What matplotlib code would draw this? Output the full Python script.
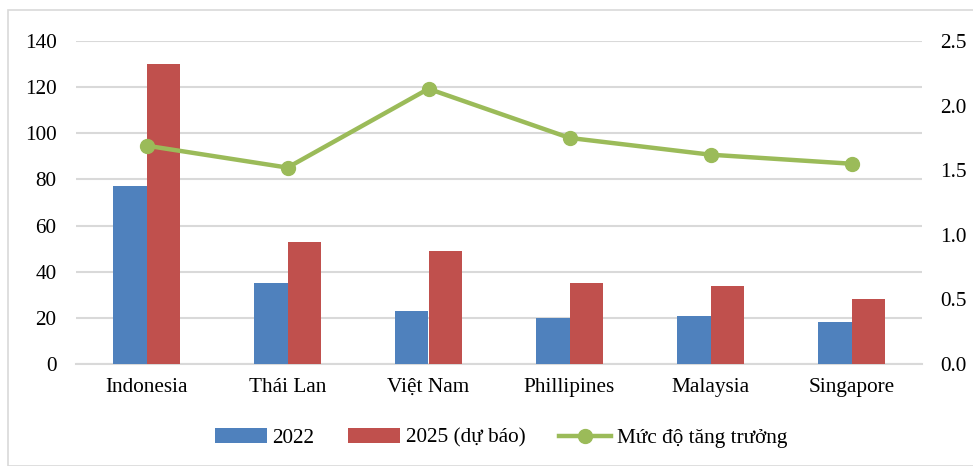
import matplotlib
matplotlib.use("Agg")
import matplotlib.pyplot as plt
import numpy as np
from matplotlib.patches import Rectangle

categories = ["Indonesia", "Thái Lan", "Việt Nam", "Phillipines", "Malaysia", "Singapore"]
values_2022 = [77, 35, 23, 20, 21, 18]
values_2025 = [130, 53, 49, 35, 34, 28]
growth = [1.69, 1.52, 2.13, 1.75, 1.62, 1.55]
left_ticks = [0, 20, 40, 60, 80, 100, 120, 140]
right_ticks = [0.0, 0.5, 1.0, 1.5, 2.0, 2.5]

plt.rcParams['font.family'] = ['Liberation Serif', 'DejaVu Serif']
FS = 15.3

fig = plt.figure(figsize=(9.73, 4.66), dpi=100)
ax = fig.add_axes([76/973, 1-364/466, 846/973, 323/466])
ax2 = ax.twinx()

x = np.arange(len(categories))
w = 0.24
ax.bar(x - w/2, values_2022, w, color="#4F81BD", label="2022", zorder=3)
ax.bar(x + w/2, values_2025, w, color="#C0504D", label="2025 (dự báo)", zorder=3)
ax.set_xlim(-0.5, len(categories) - 0.5)
ax.set_ylim(0, 140)
ax.set_yticks(left_ticks)
ax.set_yticklabels([str(t) for t in left_ticks], fontsize=FS)
ax.set_xticks(x)
ax.set_xticklabels(categories, fontsize=FS)
ax.grid(axis='y', color="#d9d9d9", linewidth=1.5, zorder=0)
ax.set_axisbelow(True)
for s in ax.spines.values():
    s.set_visible(False)
ax.spines['bottom'].set_visible(True)
ax.spines['bottom'].set_color("#d9d9d9")
ax.spines['bottom'].set_linewidth(1.5)
ax.tick_params(axis='both', length=0)
ax.tick_params(axis='y', pad=14)
ax.tick_params(axis='x', pad=10)

ax2.plot(x, growth, color="#9BBB59", linewidth=3.2, marker='o', markersize=10,
         label="Mức độ tăng trưởng", zorder=4)
ax2.set_ylim(0, 2.5)
ax2.set_yticks(right_ticks)
ax2.set_yticklabels([f"{t:.1f}" for t in right_ticks], fontsize=FS)
for s in ax2.spines.values():
    s.set_visible(False)
ax2.tick_params(axis='y', length=0, pad=13)

h1, l1 = ax.get_legend_handles_labels()
h2, l2 = ax2.get_legend_handles_labels()
fig.legend(h1 + h2, l1 + l2, loc='center', bbox_to_anchor=(501/973, 1-438/466),
           ncol=3, frameon=False, fontsize=FS, handlelength=2.45, handletextpad=0.25,
           columnspacing=1.6)

fig.patches.append(Rectangle((8/973, 0), 1.0, 1 - 10/466, transform=fig.transFigure,
                             fill=False, edgecolor="#d9d9d9", linewidth=1.2))

fig.savefig("out.png", dpi=100)
